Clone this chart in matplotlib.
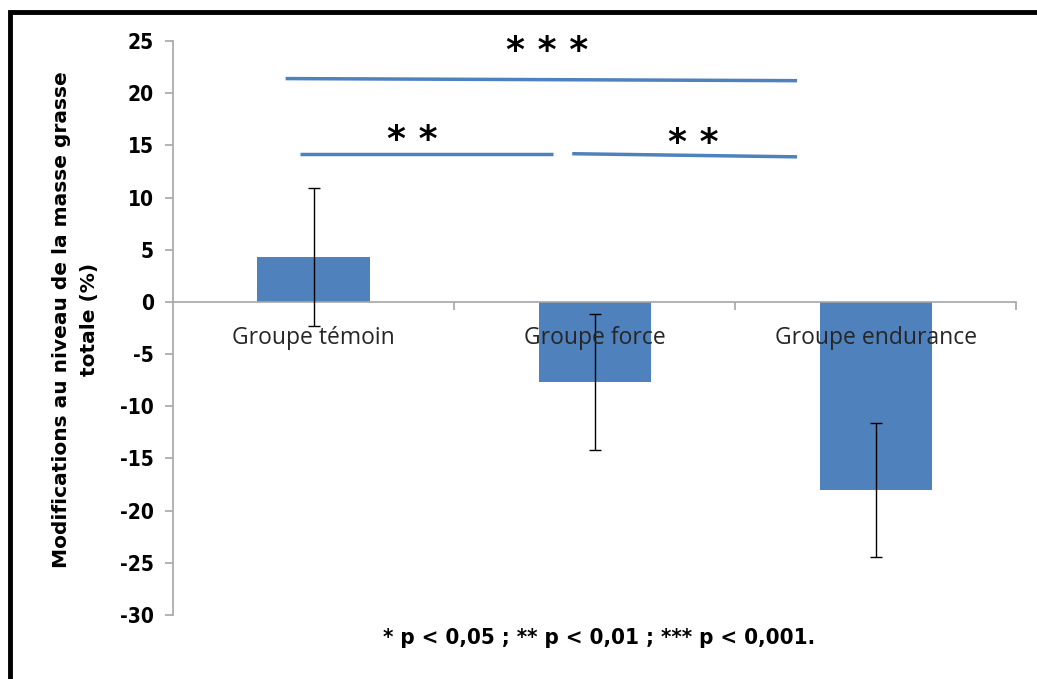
import numpy as np
import matplotlib.pyplot as plt
from matplotlib.patches import Rectangle

# ---------------- data ----------------
groups = ["Groupe témoin", "Groupe force", "Groupe endurance"]
changes = [4.3, -7.7, -18.0]
errors = [6.6, 6.5, 6.4]

# significance brackets: (x start, x end, y left, y right, label, label x, label y)
sig_x0 = [-0.10, -0.05, 0.92]
sig_x1 = [1.72, 0.85, 1.72]
sig_y0 = [21.4, 14.2, 14.2]
sig_y1 = [21.2, 14.2, 13.9]
sig_labels = ["* * *", "* *", "* *"]
sig_lx = [0.83, 0.35, 1.35]
sig_ly = [24.0, 15.5, 15.2]

ytick_vals = [-30, -25, -20, -15, -10, -5, 0, 5, 10, 15, 20, 25]

bar_color = "#4F81BD"
axis_gray = "#A6A6A6"

fig = plt.figure(figsize=(10.37, 6.79), dpi=100)
ax = fig.add_axes([0.167, 0.0943, 0.813, 0.8453])

x = np.arange(len(groups))
ax.bar(x, changes, width=0.4, color=bar_color, zorder=2)
ax.errorbar(x, changes, yerr=errors, fmt="none", ecolor="black",
            elinewidth=1.0, capsize=4.5, capthick=1.0, zorder=3)

ax.set_xlim(-0.5, 2.5)
ax.set_ylim(-30, 25)

# axes styling like the spreadsheet chart
for side in ["top", "right"]:
    ax.spines[side].set_visible(False)
ax.spines["left"].set_color(axis_gray)
ax.spines["bottom"].set_color(axis_gray)
ax.spines["bottom"].set_position(("data", 0))
ax.spines["left"].set_linewidth(1.2)
ax.spines["bottom"].set_linewidth(1.2)

ax.set_yticks(ytick_vals)
ax.set_yticklabels([str(v) for v in ytick_vals], fontweight="bold",
                   fontsize=15, fontstretch="condensed")
ax.tick_params(axis="y", colors=axis_gray, labelcolor="black",
               length=6, width=1.2, pad=8)
ax.set_xticks([0.5, 1.5, 2.5])
ax.set_xticklabels([])
ax.tick_params(axis="x", colors=axis_gray, length=6, width=1.2,
               direction="out")

for i, g in enumerate(groups):
    ax.annotate(g, xy=(i, 0), xytext=(0, -26), textcoords="offset points",
                ha="center", va="center", fontsize=16.5, color="#262626",
                family=["Open Sans", "DejaVu Sans"], zorder=4)

for i in range(len(sig_labels)):
    ax.plot([sig_x0[i], sig_x1[i]], [sig_y0[i], sig_y1[i]],
            color=bar_color, lw=2.5, solid_capstyle="butt", clip_on=False)
    ax.text(sig_lx[i], sig_ly[i], sig_labels[i], ha="center", va="center",
            fontsize=26, fontweight="bold", color="black", clip_on=False)

ax.set_ylabel("Modifications au niveau de la masse grasse\ntotale (%)",
              fontsize=14.5, fontweight="heavy", linespacing=1.6)
ax.yaxis.set_label_coords(-0.088, 0.515)

fig.text(0.578, 0.06, "* p < 0,05 ; ** p < 0,01 ; *** p < 0,001.",
         ha="center", va="center", fontsize=16, fontweight="bold",
         fontstretch="condensed")

# black frame around the whole chart (runs off right and bottom)
fig.add_artist(Rectangle((0.0092, -0.1), 1.2, 1.082, transform=fig.transFigure,
                         fill=False, ec="black", lw=3.5))

fig.savefig("out.png", dpi=100)
